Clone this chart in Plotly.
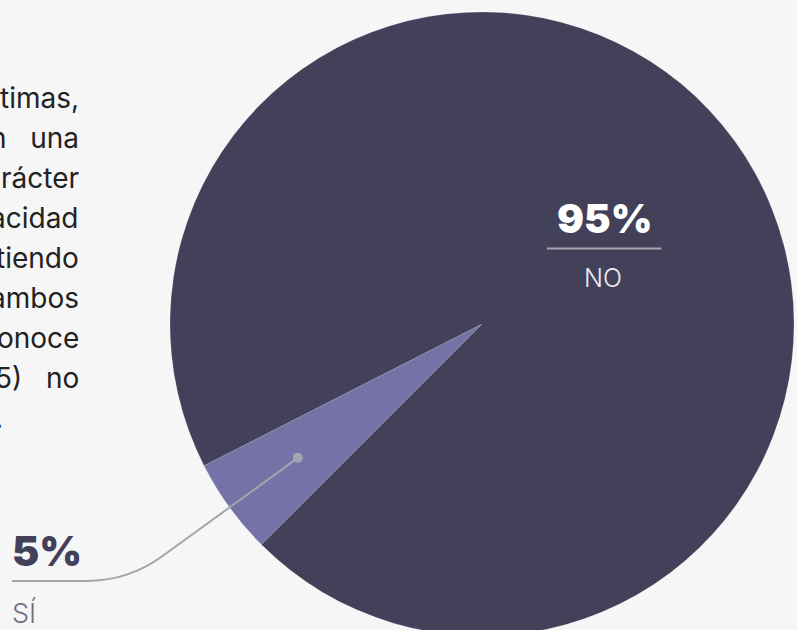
import math
import plotly.graph_objects as go

# ---- data ----
labels = ["SÍ", "NO"]
values = [5, 95]
colors = ["#7472a6", "#43415a"]
paragraph_lines = ["timas,", "n\u00a0\u00a0\u00a0una", "rácter", "acidad", "tiendo",
                   "ambos", "onoce", "55)\u00a0\u00a0\u00a0no", "."]

# ---- geometry (pixels) ----
W, H = 797, 650
CX, CY, R = 482, 324, 312
ROTATION = 225  # plotly rotation (degrees from 12 o'clock)


def px(x):
    return x / W


def py(y):
    return 1 - y / H


fig = go.Figure()
fig.add_trace(go.Pie(
    labels=labels,
    values=values,
    sort=False,
    direction="counterclockwise",
    rotation=ROTATION,
    marker=dict(colors=colors, line=dict(color="rgba(255,255,255,0.25)", width=0.6)),
    textinfo="none",
    hoverinfo="none",
    showlegend=False,
    domain=dict(x=[px(CX - R), px(CX + R)], y=[py(CY + R), py(CY - R)]),
))

# leader dot position: middle of the small slice at 73% of the radius
total = sum(values)
mid = ROTATION + (values[0] / total) * 360 / 2
rad = math.radians(mid)
dot_x = CX + 0.73 * R * math.sin(rad)
dot_y = CY - 0.73 * R * math.cos(rad)

line_col = "#a5a4ae"
# leader line: radial segment down-left, rounded corner, horizontal underline
slope = abs((dot_y - CY) / (dot_x - CX))
yh = 581
corner_x = dot_x - (yh - dot_y) / slope
d = 42
ang = math.atan(slope)
sx, sy = corner_x + d * math.cos(ang), yh - d * math.sin(ang)
ex = corner_x - d
path = (f"M {px(dot_x)} {py(dot_y)} L {px(sx)} {py(sy)} "
        f"Q {px(corner_x)} {py(yh)} {px(ex)} {py(yh)} L {px(12)} {py(yh)}")
shapes = [
    dict(type="path", xref="paper", yref="paper", path=path,
         line=dict(color=line_col, width=2)),
    dict(type="circle", xref="paper", yref="paper",
         x0=px(dot_x - 5), x1=px(dot_x + 5), y0=py(dot_y + 5), y1=py(dot_y - 5),
         fillcolor=line_col, line=dict(width=0)),
    dict(type="line", xref="paper", yref="paper",
         x0=px(547), x1=px(661.5), y0=py(248.5), y1=py(248.5),
         line=dict(color=line_col, width=2)),
]

annotations = []
n_lines = len(paragraph_lines)
for i, t in enumerate(paragraph_lines):
    last = i == n_lines - 1  # last line of a justified paragraph is left-aligned
    annotations.append(dict(
        text=t, xref="paper", yref="paper", x=px(5 if last else 81), y=py(98 + 40 * i),
        xanchor="right", yanchor="middle", showarrow=False,
        font=dict(family="Inter", size=28, color="#222222"),
    ))

annotations += [
    dict(text=f"{values[1]}%", xref="paper", yref="paper", x=px(604), y=py(219),
         xanchor="center", yanchor="middle", showarrow=False,
         font=dict(family="Inter", size=40, color="#ffffff", weight=900)),
    dict(text=labels[1], xref="paper", yref="paper", x=px(603), y=py(278),
         xanchor="center", yanchor="middle", showarrow=False,
         font=dict(family="Inter", size=25, color="#ececf0", weight=300)),
    dict(text=f"{values[0]}%", xref="paper", yref="paper", x=px(10), y=py(551),
         xanchor="left", yanchor="middle", showarrow=False,
         font=dict(family="Inter", size=41, color="#43415a", weight=900)),
    dict(text=labels[0], xref="paper", yref="paper", x=px(10), y=py(613),
         xanchor="left", yanchor="middle", showarrow=False,
         font=dict(family="Inter", size=27, color="#707080", weight=300)),
]

fig.update_layout(
    width=W, height=H,
    margin=dict(l=0, r=0, t=0, b=0),
    paper_bgcolor="#f6f6f6",
    plot_bgcolor="#f6f6f6",
    shapes=shapes,
    annotations=annotations,
)

fig.write_html(
    "out.html",
    config=dict(displayModeBar=False),
    post_script="document.body.style.margin='0';document.body.style.overflow='hidden';document.body.style.background='#f6f6f6';",
)
